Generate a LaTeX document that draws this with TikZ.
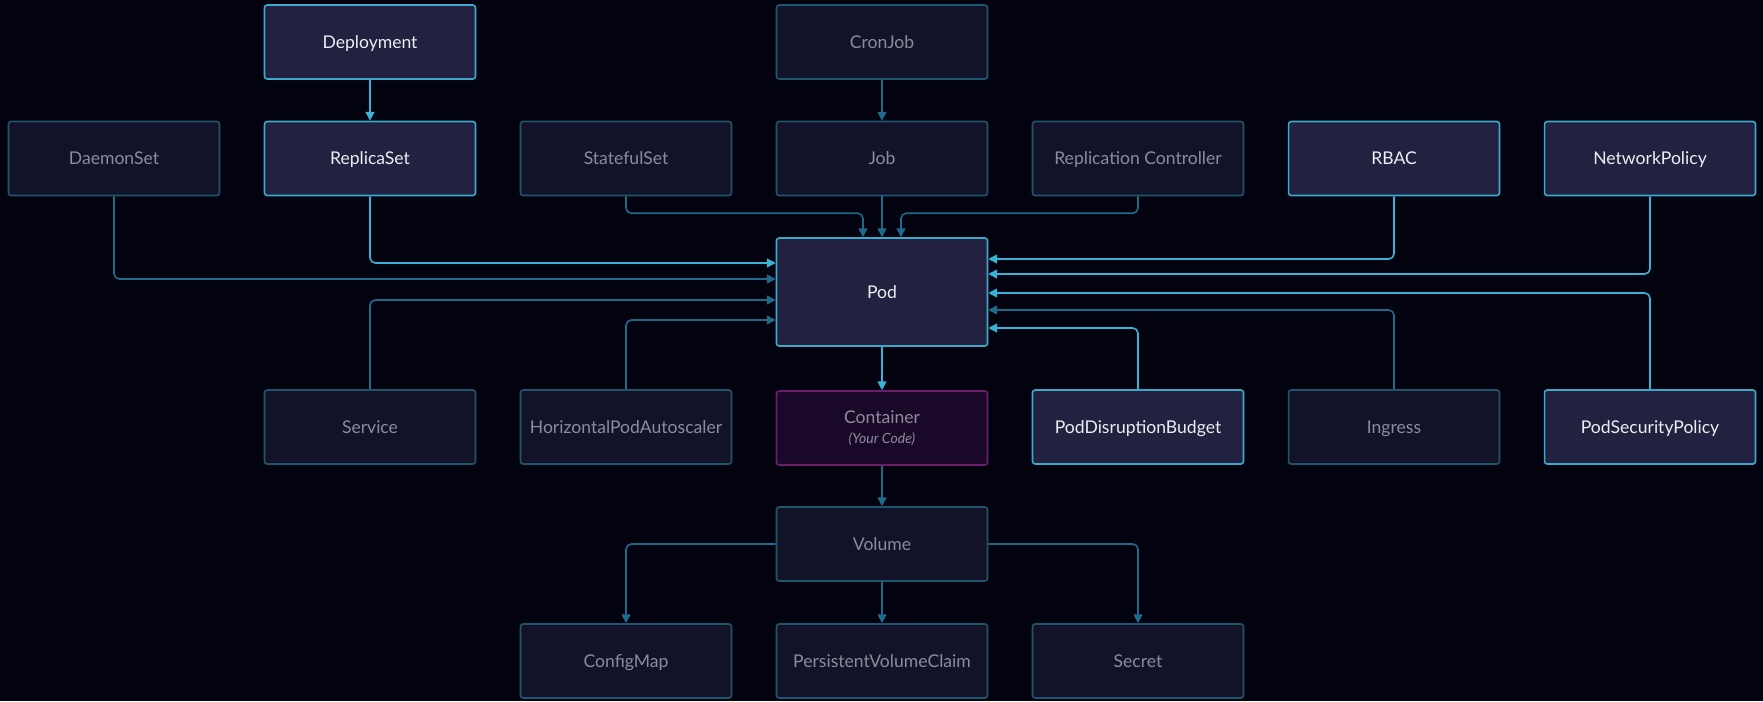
\documentclass[tikz,border=0pt]{standalone}
\usepackage{fontspec}
\setmainfont{Lato}
\usetikzlibrary{arrows.meta,calc}
\definecolor{bg}{HTML}{03030F}
\definecolor{dimfill}{HTML}{121229}
\definecolor{hifill}{HTML}{22213F}
\definecolor{dimborder}{HTML}{1E5670}
\definecolor{hiborder}{HTML}{3CA9CC}
\definecolor{dimtext}{HTML}{8C8C9E}
\definecolor{hitext}{HTML}{EDEDF5}
\definecolor{contfill}{HTML}{1A0828}
\definecolor{contborder}{HTML}{6B1F6B}
\definecolor{hiline}{HTML}{3AB1D6}
\definecolor{dimline}{HTML}{1F6A8A}
\begin{document}
\begin{tikzpicture}[x=0.02cm,y=-0.02cm,
  box/.style={draw, rectangle, rounded corners=1.5pt, minimum width=4.22cm, minimum height=1.48cm, inner sep=0pt, font=\fontsize{10}{12}\selectfont, line width=0.9pt},
  onebox/.style={box, text height=7.2pt, text depth=0pt},
  dimbox/.style={onebox, fill=dimfill, draw=dimborder, text=dimtext},
  hibox/.style={onebox, fill=hifill, draw=hiborder, text=hitext},
  contbox/.style={box, fill=contfill, draw=contborder, text=dimtext, align=center},
  conn/.style={line width=0.9pt, rounded corners=3pt, -{Triangle[length=5pt,width=5pt]}},
  dimconn/.style={conn, draw=dimline},
  hiconn/.style={conn, draw=hiline}]
\fill[bg] (0,0) rectangle (1763,701);
\useasboundingbox (0,0) rectangle (1763,701);
% top row
\node[hibox]  (dep)  at (370,42)  {Deployment};
\node[dimbox] (cron) at (882,42)  {CronJob};
% second row
\node[dimbox] (ds)   at (114,158.5)  {DaemonSet};
\node[hibox]  (rs)   at (370,158.5)  {ReplicaSet};
\node[dimbox] (ss)   at (626,158.5)  {StatefulSet};
\node[dimbox] (job)  at (882,158.5)  {Job};
\node[dimbox] (rc)   at (1138,158.5) {Replication Controller};
\node[hibox]  (rbac) at (1394,158.5) {RBAC};
\node[hibox]  (np)   at (1650,158.5) {NetworkPolicy};
% pod
\node[hibox, minimum height=2.16cm] (pod) at (882,292) {Pod};
% third row
\node[dimbox] (svc)  at (370,427)  {Service};
\node[dimbox] (hpa)  at (626,427)  {HorizontalPodAutoscaler};
\node[contbox] (cont) at (882,428) {Container\\[-1pt]{\itshape\fontsize{8}{10}\selectfont (Your Code)}};
\node[hibox]  (pdb)  at (1138,427) {PodDisruptionBudget};
\node[dimbox] (ing)  at (1394,427) {Ingress};
\node[hibox]  (psp)  at (1650,427) {PodSecurityPolicy};
% volume
\node[dimbox] (vol)  at (882,544)  {Volume};
\node[dimbox] (cm)   at (626,661)  {ConfigMap};
\node[dimbox] (pvc)  at (882,661)  {PersistentVolumeClaim};
\node[dimbox] (sec)  at (1138,661) {Secret};
% connectors
\draw[hiconn] (dep) -- (rs);
\draw[dimconn] (cron) -- (job);
\draw[dimconn] (ds.south) |- (pod.west |- 0,279);
\draw[hiconn] (rs.south) |- (pod.west |- 0,263);
\draw[dimconn] (ss.south) |- ($(pod.north)+(-19,-24)$) -- ($(pod.north)+(-19,0)$);
\draw[dimconn] (job) -- (pod);
\draw[dimconn] (rc.south) |- ($(pod.north)+(19,-24)$) -- ($(pod.north)+(19,0)$);
\draw[hiconn] (rbac.south) |- (pod.east |- 0,259);
\draw[hiconn] (np.south) |- (pod.east |- 0,274);
\draw[dimconn] (svc.north) |- (pod.west |- 0,300);
\draw[dimconn] (hpa.north) |- (pod.west |- 0,320);
\draw[hiconn] (pod) -- (cont);
\draw[hiconn] (pdb.north) |- (pod.east |- 0,328);
\draw[dimconn] (ing.north) |- (pod.east |- 0,310);
\draw[hiconn] (psp.north) |- (pod.east |- 0,293);
\draw[dimconn] (cont) -- (vol);
\draw[dimconn] (vol.west) -| (cm.north);
\draw[dimconn] (vol) -- (pvc);
\draw[dimconn] (vol.east) -| (sec.north);
\end{tikzpicture}
\end{document}
